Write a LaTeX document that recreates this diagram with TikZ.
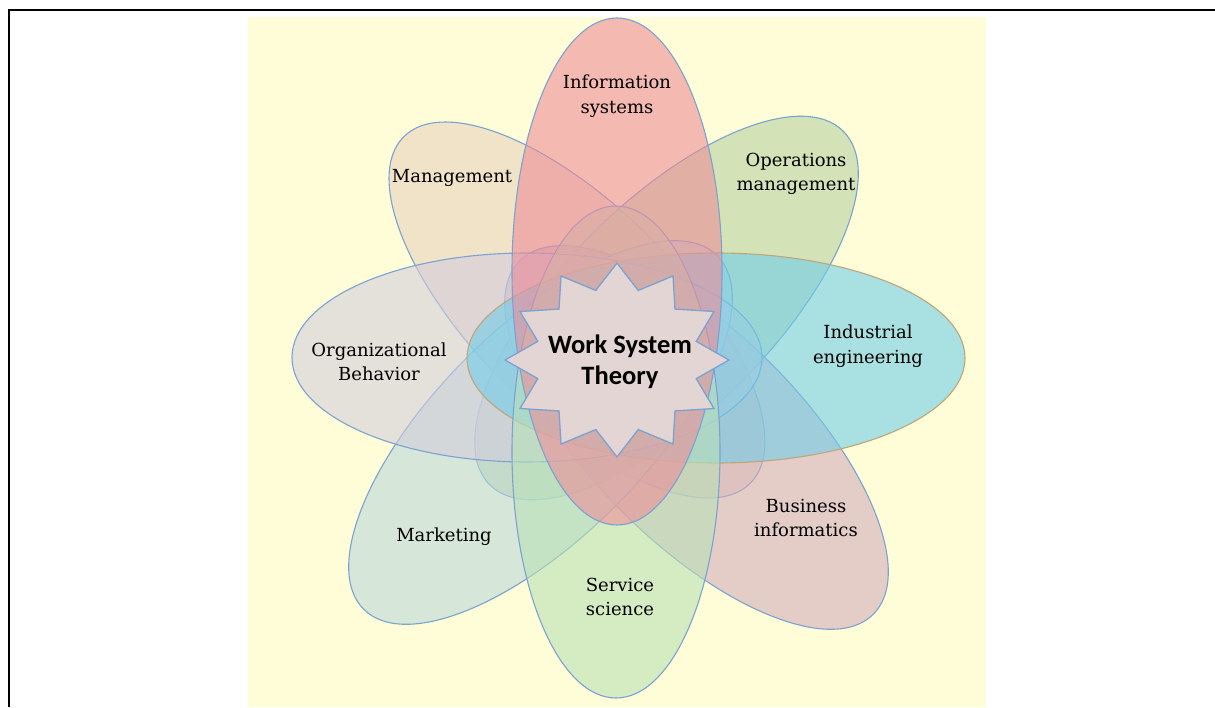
\documentclass[tikz,border=0pt]{standalone}
\usepackage{fontspec}
\setmainfont{DejaVu Serif}
\newfontfamily\wstfont{Carlito}
\definecolor{bgyellow}{RGB}{255,253,215}
\definecolor{petalline}{RGB}{122,162,210}
\definecolor{ieline}{RGB}{190,165,125}
\definecolor{cIS}{RGB}{237,141,153}
\definecolor{cMgmt}{RGB}{233,210,190}
\definecolor{cOM}{RGB}{182,211,162}
\definecolor{cIE}{RGB}{113,205,233}
\definecolor{cBI}{RGB}{210,173,187}
\definecolor{cSS}{RGB}{185,225,183}
\definecolor{cMK}{RGB}{187,215,217}
\definecolor{cOB}{RGB}{210,205,220}
\definecolor{starfill}{RGB}{226,213,211}
\begin{document}
\begin{tikzpicture}[x=1pt,y=-1pt,
  petal/.style={draw=petalline, line width=1.1pt, fill opacity=0.6},
  lab/.style={font=\fontsize{18}{24.5}\selectfont, align=center, text=black, inner sep=0pt},
  wst/.style={font=\wstfont\bfseries\fontsize{26.5}{31}\selectfont, align=center, text=black, inner sep=0pt},
  starsty/.style={draw=petalline, line width=1.3pt, fill=starfill}
]
\useasboundingbox (0,0) rectangle (1215,707);
\fill[bgyellow] (248,17) rectangle (986,707);
\draw[line width=2.6pt] (9,707) -- (9,10) -- (1215,10);

% petals
\draw[petal, fill=cMgmt, shift={(577,310)}, rotate=135] (0,0) ellipse [x radius=245, y radius=103];
\draw[petal, fill=cOM, shift={(666.5,308)}, rotate=45] (0,0) ellipse [x radius=250, y radius=105];
\draw[petal, fill=cBI, shift={(696.5,437.5)}, rotate=-45] (0,0) ellipse [x radius=250, y radius=105];
\draw[petal, fill=cMK, shift={(540.5,432.5)}, rotate=45] (0,0) ellipse [x radius=250, y radius=105];
\draw[petal, fill=cOB] (527,357.5) ellipse [x radius=235, y radius=104.5];
\draw[petal, fill=cIE, draw=ieline] (716,358) ellipse [x radius=249, y radius=105];
\draw[petal, fill=cSS] (616,452) ellipse [x radius=104, y radius=246];
\draw[petal, fill=cIS] (617,271.5) ellipse [x radius=105, y radius=253.5];

% star
\draw[starsty, shift={(617,360)}] (0:112 and 97)
  \foreach \a in {0,30,...,330}{ -- (\a+15:82 and 72) -- (\a+30:112 and 97)} -- cycle;

% labels
\node[lab] (is) at (617,96) {Information\\systems};
\node[lab] (mgmt) at (452,178) {Management};
\node[lab] (om) at (796,174) {Operations\\management};
\node[lab] (ob) at (379,362) {Organizational\\Behavior};
\node[lab] (ie) at (868,346) {Industrial\\engineering};
\node[lab] (bi) at (806,518) {Business\\informatics};
\node[lab] (mk) at (444,537) {Marketing};
\node[lab] (ss) at (620,597) {Service\\science};
\node[wst] (theory) at (620,362) {Work System\\Theory};
\end{tikzpicture}
\end{document}
